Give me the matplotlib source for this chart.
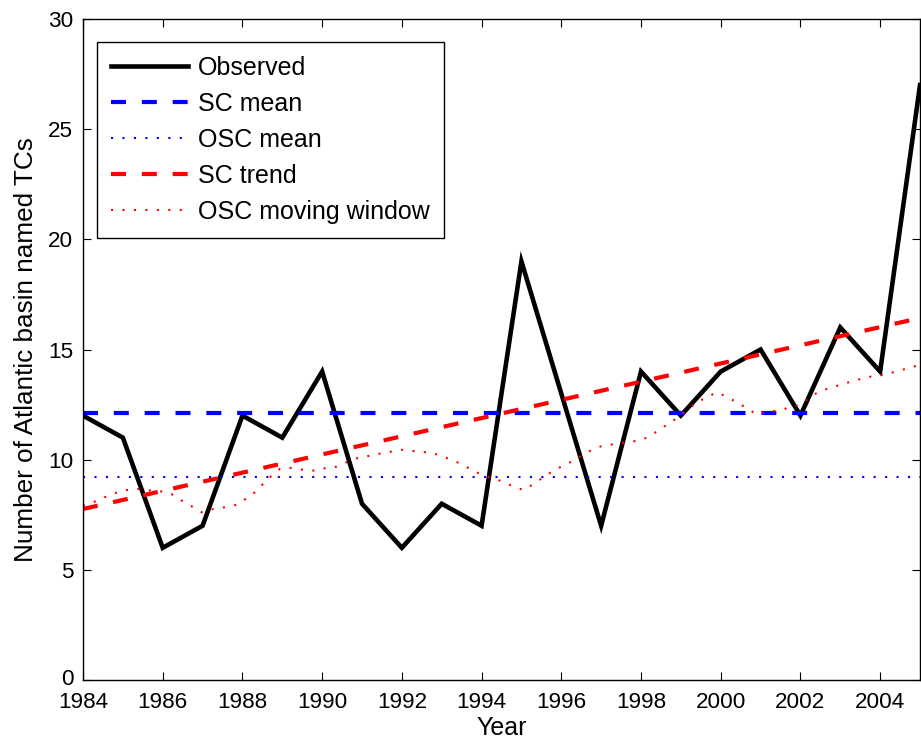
import matplotlib
matplotlib.use("Agg")
import matplotlib.pyplot as plt
import matplotlib.transforms as mtransforms
import numpy as np

plt.rcParams['font.family'] = ['Liberation Sans', 'DejaVu Sans']

years = list(range(1984, 2006))
observed = [12, 11, 6, 7, 12, 11, 14, 8, 6, 8, 7, 19, 13, 7, 14, 12, 14, 15, 12, 16, 14, 27]

sc_mean = 12.1
osc_mean = 9.23
sc_trend_start, sc_trend_end = 7.76, 16.43

mw_years = [1984.0, 1984.3, 1984.55, 1984.8, 1985.1, 1985.4, 1985.7, 1986.0, 1986.22, 1986.48,
            1986.73, 1986.98, 1987.27, 1987.56, 1987.86, 1988.27, 1988.52, 1988.73, 1988.94,
            1989.24, 1989.52, 1989.82, 1990.11, 1990.36, 1990.61, 1990.9, 1991.2, 1991.49,
            1991.78, 1992.03, 1992.33, 1992.62, 1992.91, 1993.16, 1993.46, 1993.71, 1993.96,
            1994.2, 1994.46, 1994.75, 1995.05, 1995.3, 1995.55, 1995.8, 1996.05, 1996.3,
            1996.51, 1996.8, 1997.05, 1997.35, 1997.64, 1997.93, 1998.18, 1998.43, 1998.68,
            1998.93, 1999.19, 1999.4, 1999.65, 1999.9, 2000.15, 2000.4, 2000.65, 2000.9,
            2001.19, 2001.49, 2001.78, 2002.03, 2002.28, 2002.53, 2002.82, 2003.07, 2003.37,
            2003.66, 2003.95, 2004.2, 2004.5, 2004.79, 2005.0]
mw_values = [7.9, 8.1, 8.3, 8.48, 8.62, 8.67, 8.6, 8.55, 8.44, 8.14,
             7.88, 7.61, 7.76, 7.84, 7.95, 8.45, 8.9, 9.27, 9.58,
             9.63, 9.54, 9.5, 9.63, 9.68, 9.88, 10.08, 10.18, 10.29,
             10.38, 10.45, 10.38, 10.33, 10.23, 10.05, 9.83, 9.58, 9.35,
             9.2, 9.05, 8.82, 8.62, 8.89, 9.2, 9.5, 9.73, 9.95,
             10.18, 10.48, 10.64, 10.71, 10.79, 10.86, 11.02, 11.32, 11.62,
             11.92, 12.3, 12.6, 12.83, 13.06, 12.86, 12.6, 12.35, 12.05,
             12.15, 12.26, 12.38, 12.53, 12.9, 13.14, 13.29, 13.44, 13.59,
             13.74, 13.82, 13.9, 14.05, 14.2, 14.3]

xticks = list(range(1984, 2006, 2))
yticks = [0, 5, 10, 15, 20, 25, 30]

fig = plt.figure(figsize=(9.21, 7.49), dpi=100)
ax = fig.add_axes([83/921, 1-680/749, 837/921, 661/749])

ax.plot(years, observed, color='black', lw=3.3, label='Observed', solid_joinstyle='miter')
ax.plot([years[0], years[-1]], [sc_mean, sc_mean], color='blue', lw=3,
        dashes=(3.6, 3.8), label='SC mean')
ax.plot([years[0], years[-1]], [osc_mean, osc_mean], color='blue', lw=1.5,
        dashes=(1, 4.5), label='OSC mean')
ax.plot([years[0], years[-1]], [sc_trend_start, sc_trend_end], color='red', lw=3,
        dashes=(3.6, 3.8), label='SC trend')
ax.plot(mw_years, mw_values, color='red', lw=1.5, dashes=(1, 4.5),
        label='OSC moving window')

ax.set_xlim(1984, 2005)
ax.set_ylim(0, 30)
ax.set_xticks(xticks)
ax.set_yticks(yticks)
ax.tick_params(direction='in', length=6, width=0.8, top=True, right=True,
               labelsize=16.2)
ax.tick_params(axis='x', pad=9)
ax.tick_params(axis='y', pad=7)
for s in ax.spines.values():
    s.set_linewidth(1.0)

# nudge the "0" y tick label up slightly so it clears the "1984" label
lab0 = ax.yaxis.get_major_ticks()[0].label1
lab0.set_transform(lab0.get_transform() +
                   mtransforms.ScaledTranslation(0, 2.5/72, fig.dpi_scale_trans))

ax.set_xlabel('Year', fontsize=18, labelpad=2)
ax.set_ylabel('Number of Atlantic basin named TCs', fontsize=18.8, labelpad=7)

leg = ax.legend(loc='upper left', bbox_to_anchor=(14/837, 1-23/661), borderaxespad=0,
                fontsize=18, handlelength=3.1, handletextpad=0.4, labelspacing=0.48,
                fancybox=False, framealpha=1, edgecolor='black', borderpad=0.55)
leg.get_frame().set_linewidth(1.0)

fig.savefig('out.png', dpi=100)
